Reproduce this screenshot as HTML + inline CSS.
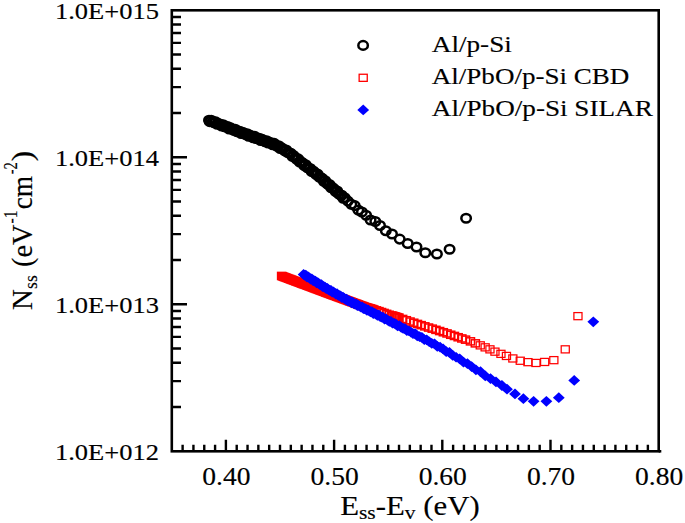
<!DOCTYPE html>
<html lang="en"><head><meta charset="utf-8"><title>Nss vs Ess-Ev</title>
<style>html,body{margin:0;padding:0;background:#fff;}svg{display:block;}text{font-family:"Liberation Serif",serif;fill:#000;stroke:#000;stroke-width:0.15px;}</style>
</head><body>
<svg width="685" height="523" viewBox="0 0 685 523">
<rect x="0" y="0" width="685" height="523" fill="#fff"/>
<g fill="none" stroke="#ff0000" stroke-width="1.5">
<rect x="277.6" y="272.4" width="8.1" height="7.1" fill="#ff0000"/>
<rect x="278.6" y="272.8" width="8.1" height="7.1" fill="#ff0000"/>
<rect x="279.8" y="273.3" width="8.1" height="7.1" fill="#ff0000"/>
<rect x="281.0" y="273.7" width="8.1" height="7.1" fill="#ff0000"/>
<rect x="282.2" y="274.2" width="8.1" height="7.1" fill="#ff0000"/>
<rect x="283.4" y="274.6" width="8.1" height="7.1" fill="#ff0000"/>
<rect x="284.6" y="275.1" width="8.1" height="7.1" fill="#ff0000"/>
<rect x="285.8" y="275.5" width="8.1" height="7.1" fill="#ff0000"/>
<rect x="287.0" y="276.0" width="8.1" height="7.1" fill="#ff0000"/>
<rect x="288.2" y="276.4" width="8.1" height="7.1" fill="#ff0000"/>
<rect x="289.4" y="276.9" width="8.1" height="7.1" fill="#ff0000"/>
<rect x="290.6" y="277.3" width="8.1" height="7.1" fill="#ff0000"/>
<rect x="291.8" y="277.8" width="8.1" height="7.1" fill="#ff0000"/>
<rect x="293.0" y="278.2" width="8.1" height="7.1" fill="#ff0000"/>
<rect x="294.2" y="278.7" width="8.1" height="7.1" fill="#ff0000"/>
<rect x="295.4" y="279.1" width="8.1" height="7.1" fill="#ff0000"/>
<rect x="296.6" y="279.6" width="8.1" height="7.1" fill="#ff0000"/>
<rect x="297.8" y="280.0" width="8.1" height="7.1" fill="#ff0000"/>
<rect x="299.0" y="280.5" width="8.1" height="7.1" fill="#ff0000"/>
<rect x="300.2" y="280.9" width="8.1" height="7.1" fill="#ff0000"/>
<rect x="301.4" y="281.3" width="8.1" height="7.1" fill="#ff0000"/>
<rect x="302.6" y="281.8" width="8.1" height="7.1" fill="#ff0000"/>
<rect x="303.8" y="282.2" width="8.1" height="7.1" fill="#ff0000"/>
<rect x="305.0" y="282.7" width="8.1" height="7.1" fill="#ff0000"/>
<rect x="306.2" y="283.1" width="8.1" height="7.1" fill="#ff0000"/>
<rect x="307.4" y="283.6" width="8.1" height="7.1" fill="#ff0000"/>
<rect x="308.6" y="284.0" width="8.1" height="7.1" fill="#ff0000"/>
<rect x="309.8" y="284.5" width="8.1" height="7.1" fill="#ff0000"/>
<rect x="311.0" y="284.9" width="8.1" height="7.1" fill="#ff0000"/>
<rect x="312.2" y="285.4" width="8.1" height="7.1" fill="#ff0000"/>
<rect x="313.4" y="285.8" width="8.1" height="7.1" fill="#ff0000"/>
<rect x="314.6" y="286.3" width="8.1" height="7.1" fill="#ff0000"/>
<rect x="315.8" y="286.7" width="8.1" height="7.1" fill="#ff0000"/>
<rect x="317.0" y="287.2" width="8.1" height="7.1" fill="#ff0000"/>
<rect x="318.2" y="287.6" width="8.1" height="7.1" fill="#ff0000"/>
<rect x="319.4" y="288.1" width="8.1" height="7.1" fill="#ff0000"/>
<rect x="320.6" y="288.5" width="8.1" height="7.1" fill="#ff0000"/>
<rect x="321.8" y="289.0" width="8.1" height="7.1" fill="#ff0000"/>
<rect x="323.0" y="289.4" width="8.1" height="7.1" fill="#ff0000"/>
<rect x="324.2" y="289.9" width="8.1" height="7.1" fill="#ff0000"/>
<rect x="325.4" y="290.3" width="8.1" height="7.1" fill="#ff0000"/>
<rect x="326.6" y="290.8" width="8.1" height="7.1" fill="#ff0000"/>
<rect x="327.8" y="291.2" width="8.1" height="7.1" fill="#ff0000"/>
<rect x="329.0" y="291.7" width="8.1" height="7.1" fill="#ff0000"/>
<rect x="330.2" y="292.1" width="8.1" height="7.1" fill="#ff0000"/>
<rect x="331.4" y="292.5" width="8.1" height="7.1" fill="#ff0000"/>
<rect x="332.6" y="293.0" width="8.1" height="7.1" fill="#ff0000"/>
<rect x="333.8" y="293.4" width="8.1" height="7.1" fill="#ff0000"/>
<rect x="335.0" y="293.8" width="8.1" height="7.1" fill="#ff0000"/>
<rect x="336.2" y="294.3" width="8.1" height="7.1" fill="#ff0000"/>
<rect x="337.4" y="294.7" width="8.1" height="7.1" fill="#ff0000"/>
<rect x="338.6" y="295.2" width="8.1" height="7.1" fill="#ff0000"/>
<rect x="339.8" y="295.6" width="8.1" height="7.1" fill="#ff0000"/>
<rect x="341.0" y="296.0" width="8.1" height="7.1" fill="#ff0000"/>
<rect x="342.2" y="296.5" width="8.1" height="7.1" fill="#ff0000"/>
<rect x="343.4" y="296.9" width="8.1" height="7.1" fill="#ff0000"/>
<rect x="344.6" y="297.4" width="8.1" height="7.1" fill="#ff0000"/>
<rect x="345.8" y="297.8" width="8.1" height="7.1" fill="#ff0000"/>
<rect x="347.0" y="298.2" width="8.1" height="7.1" fill="#ff0000"/>
<rect x="348.2" y="298.7" width="8.1" height="7.1" fill="#ff0000"/>
<rect x="349.4" y="299.1" width="8.1" height="7.1" fill="#ff0000"/>
<rect x="350.6" y="299.6" width="8.1" height="7.1" fill="#ff0000"/>
<rect x="351.8" y="300.0" width="8.1" height="7.1" fill="#ff0000"/>
<rect x="353.0" y="300.4" width="8.1" height="7.1" fill="#ff0000"/>
<rect x="354.2" y="300.9" width="8.1" height="7.1" fill="#ff0000"/>
<rect x="355.4" y="301.3" width="8.1" height="7.1" fill="#ff0000"/>
<rect x="356.6" y="301.8" width="8.1" height="7.1" fill="#ff0000"/>
<rect x="357.8" y="302.2" width="8.1" height="7.1" fill="#ff0000"/>
<rect x="359.0" y="302.6" width="8.1" height="7.1" fill="#ff0000"/>
<rect x="360.2" y="303.1" width="8.1" height="7.1" fill="#ff0000"/>
<rect x="361.4" y="303.5" width="8.1" height="7.1" fill="#ff0000"/>
<rect x="362.6" y="303.8" width="8.1" height="7.1" fill="#ff0000"/>
<rect x="363.8" y="304.2" width="8.1" height="7.1" fill="#ff0000"/>
<rect x="365.0" y="304.6" width="8.1" height="7.1" fill="#ff0000"/>
<rect x="366.2" y="304.9" width="8.1" height="7.1" fill="#ff0000"/>
<rect x="367.4" y="305.3" width="8.1" height="7.1" fill="#ff0000"/>
<rect x="368.6" y="305.6" width="8.1" height="7.1" fill="#ff0000"/>
<rect x="369.8" y="306.0" width="8.1" height="7.1" fill="#ff0000"/>
<rect x="372.4" y="306.8" width="8.1" height="7.1"/>
<rect x="374.9" y="307.6" width="8.1" height="7.1"/>
<rect x="377.5" y="308.5" width="8.1" height="7.1"/>
<rect x="380.0" y="309.4" width="8.1" height="7.1"/>
<rect x="382.6" y="310.3" width="8.1" height="7.1"/>
<rect x="385.1" y="311.2" width="8.1" height="7.1"/>
<rect x="387.7" y="311.9" width="8.1" height="7.1"/>
<rect x="388.9" y="312.3" width="8.1" height="7.1"/>
<rect x="390.1" y="312.7" width="8.1" height="7.1"/>
<rect x="391.3" y="313.0" width="8.1" height="7.1"/>
<rect x="392.5" y="313.4" width="8.1" height="7.1"/>
<rect x="393.7" y="313.8" width="8.1" height="7.1"/>
<rect x="394.9" y="314.1" width="8.1" height="7.1"/>
<rect x="398.6" y="315.4" width="8.1" height="7.1"/>
<rect x="402.3" y="316.7" width="8.1" height="7.1"/>
<rect x="406.0" y="318.0" width="8.1" height="7.1"/>
<rect x="409.7" y="319.2" width="8.1" height="7.1"/>
<rect x="413.4" y="320.4" width="8.1" height="7.1"/>
<rect x="417.1" y="321.6" width="8.1" height="7.1"/>
<rect x="420.8" y="322.8" width="8.1" height="7.1"/>
<rect x="424.5" y="324.0" width="8.1" height="7.1"/>
<rect x="428.2" y="325.1" width="8.1" height="7.1"/>
<rect x="431.9" y="326.3" width="8.1" height="7.1"/>
<rect x="435.6" y="327.5" width="8.1" height="7.1"/>
<rect x="439.3" y="328.7" width="8.1" height="7.1"/>
<rect x="443.0" y="329.9" width="8.1" height="7.1"/>
<rect x="446.7" y="331.2" width="8.1" height="7.1"/>
<rect x="450.4" y="332.4" width="8.1" height="7.1"/>
<rect x="454.1" y="333.7" width="8.1" height="7.1"/>
<rect x="457.8" y="334.9" width="8.1" height="7.1"/>
<rect x="461.5" y="336.1" width="8.1" height="7.1"/>
<rect x="466.4" y="337.8" width="8.1" height="7.1"/>
<rect x="471.3" y="339.8" width="8.1" height="7.1"/>
<rect x="476.2" y="341.8" width="8.1" height="7.1" stroke-width="1.25"/>
<rect x="481.1" y="343.8" width="8.1" height="7.1" stroke-width="1.25"/>
<rect x="485.9" y="345.8" width="8.1" height="7.1" stroke-width="1.25"/>
<rect x="490.9" y="348.1" width="8.1" height="7.1" stroke-width="1.25"/>
<rect x="496.9" y="350.3" width="8.1" height="7.1" stroke-width="1.25"/>
<rect x="502.4" y="352.4" width="8.1" height="7.1" stroke-width="1.25"/>
<rect x="508.8" y="354.9" width="8.1" height="7.1" stroke-width="1.25"/>
<rect x="516.2" y="357.2" width="8.1" height="7.1" stroke-width="1.25"/>
<rect x="523.9" y="358.6" width="8.1" height="7.1" stroke-width="1.25"/>
<rect x="531.9" y="359.4" width="8.1" height="7.1" stroke-width="1.25"/>
<rect x="540.6" y="358.4" width="8.1" height="7.1" stroke-width="1.25"/>
<rect x="549.8" y="356.6" width="8.1" height="7.1" stroke-width="1.25"/>
<rect x="561.2" y="345.8" width="8.1" height="7.1" stroke-width="1.25"/>
<rect x="573.9" y="312.6" width="8.1" height="7.1" stroke-width="1.25"/>
</g>
<g fill="#0000ff" stroke="none">
<path d="M297.7 274.4L303.6 269.0L309.5 274.4L303.6 279.8Z"/>
<path d="M298.7 275.3L304.6 269.9L310.5 275.3L304.6 280.6Z"/>
<path d="M299.9 275.1L305.8 269.8L311.7 275.1L305.8 280.5Z"/>
<path d="M301.1 277.1L307.0 271.7L312.9 277.1L307.0 282.4Z"/>
<path d="M302.3 276.9L308.2 271.5L314.1 276.9L308.2 282.2Z"/>
<path d="M303.5 277.8L309.4 272.4L315.3 277.8L309.4 283.1Z"/>
<path d="M304.7 279.2L310.6 273.8L316.5 279.2L310.6 284.5Z"/>
<path d="M305.9 278.7L311.8 273.4L317.7 278.7L311.8 284.1Z"/>
<path d="M307.1 280.5L313.0 275.2L318.9 280.5L313.0 285.9Z"/>
<path d="M308.3 280.9L314.2 275.5L320.1 280.9L314.2 286.2Z"/>
<path d="M309.5 281.1L315.4 275.7L321.3 281.1L315.4 286.4Z"/>
<path d="M310.7 283.0L316.6 277.6L322.5 283.0L316.6 288.3Z"/>
<path d="M311.9 282.6L317.8 277.2L323.7 282.6L317.8 287.9Z"/>
<path d="M313.1 283.8L319.0 278.5L324.9 283.8L319.0 289.2Z"/>
<path d="M314.3 284.9L320.2 279.5L326.1 284.9L320.2 290.2Z"/>
<path d="M315.5 284.6L321.4 279.2L327.3 284.6L321.4 289.9Z"/>
<path d="M316.7 286.5L322.6 281.2L328.5 286.5L322.6 291.9Z"/>
<path d="M317.9 286.5L323.8 281.2L329.7 286.5L323.8 291.9Z"/>
<path d="M319.1 287.1L325.0 281.8L330.9 287.1L325.0 292.5Z"/>
<path d="M320.3 288.8L326.2 283.4L332.1 288.8L326.2 294.1Z"/>
<path d="M321.5 288.3L327.4 282.9L333.3 288.3L327.4 293.6Z"/>
<path d="M322.7 289.9L328.6 284.5L334.5 289.9L328.6 295.2Z"/>
<path d="M323.9 290.5L329.8 285.1L335.7 290.5L329.8 295.8Z"/>
<path d="M325.1 290.4L331.0 285.0L336.9 290.4L331.0 295.7Z"/>
<path d="M326.3 292.2L332.2 286.9L338.1 292.2L332.2 297.6Z"/>
<path d="M327.5 291.9L333.4 286.6L339.3 291.9L333.4 297.3Z"/>
<path d="M328.7 292.9L334.6 287.5L340.5 292.9L334.6 298.2Z"/>
<path d="M329.9 294.1L335.8 288.8L341.7 294.1L335.8 299.5Z"/>
<path d="M331.1 293.7L337.0 288.3L342.9 293.7L337.0 299.0Z"/>
<path d="M332.3 295.4L338.2 290.1L344.1 295.4L338.2 300.8Z"/>
<path d="M333.5 295.6L339.4 290.3L345.3 295.6L339.4 301.0Z"/>
<path d="M334.7 295.9L340.6 290.5L346.5 295.9L340.6 301.2Z"/>
<path d="M335.9 297.6L341.8 292.3L347.7 297.6L341.8 303.0Z"/>
<path d="M337.1 297.1L343.0 291.8L348.9 297.1L343.0 302.5Z"/>
<path d="M338.3 298.5L344.2 293.1L350.1 298.5L344.2 303.8Z"/>
<path d="M339.5 299.3L345.4 294.0L351.3 299.3L345.4 304.7Z"/>
<path d="M340.7 299.1L346.6 293.7L352.5 299.1L346.6 304.4Z"/>
<path d="M341.9 300.9L347.8 295.6L353.7 300.9L347.8 306.3Z"/>
<path d="M343.1 300.8L349.0 295.4L354.9 300.8L349.0 306.1Z"/>
<path d="M344.3 301.4L350.2 296.1L356.1 301.4L350.2 306.8Z"/>
<path d="M345.5 302.8L351.4 297.5L357.3 302.8L351.4 308.2Z"/>
<path d="M346.7 302.2L352.6 296.8L358.5 302.2L352.6 307.5Z"/>
<path d="M347.9 303.7L353.8 298.3L359.7 303.7L353.8 309.0Z"/>
<path d="M349.1 304.0L355.0 298.7L360.9 304.0L355.0 309.4Z"/>
<path d="M350.3 304.0L356.2 298.6L362.1 304.0L356.2 309.3Z"/>
<path d="M351.5 305.7L357.4 300.4L363.3 305.7L357.4 311.1Z"/>
<path d="M352.7 305.2L358.6 299.9L364.5 305.2L358.6 310.6Z"/>
<path d="M353.9 306.2L359.8 300.9L365.7 306.2L359.8 311.6Z"/>
<path d="M355.1 307.3L361.0 301.9L366.9 307.3L361.0 312.6Z"/>
<path d="M356.3 306.8L362.2 301.4L368.1 306.8L362.2 312.1Z"/>
<path d="M357.5 308.5L363.4 303.2L369.3 308.5L363.4 313.9Z"/>
<path d="M358.7 308.5L364.6 303.2L370.5 308.5L364.6 313.9Z"/>
<path d="M359.9 308.8L365.8 303.5L371.7 308.8L365.8 314.2Z"/>
<path d="M361.1 310.4L367.0 305.1L372.9 310.4L367.0 315.8Z"/>
<path d="M362.3 309.8L368.2 304.5L374.1 309.8L368.2 315.2Z"/>
<path d="M363.6 311.2L369.5 305.9L375.4 311.2L369.5 316.6Z"/>
<path d="M364.8 311.9L370.7 306.6L376.6 311.9L370.7 317.3Z"/>
<path d="M366.1 311.7L372.0 306.3L377.9 311.7L372.0 317.0Z"/>
<path d="M367.4 313.5L373.3 308.2L379.2 313.5L373.3 318.9Z"/>
<path d="M368.8 313.3L374.7 307.9L380.6 313.3L374.7 318.6Z"/>
<path d="M370.1 314.1L376.0 308.7L381.9 314.1L376.0 319.4Z"/>
<path d="M371.5 315.5L377.4 310.1L383.3 315.5L377.4 320.8Z"/>
<path d="M372.9 315.0L378.8 309.6L384.7 315.0L378.8 320.3Z"/>
<path d="M374.3 316.7L380.2 311.4L386.1 316.7L380.2 322.1Z"/>
<path d="M375.8 317.1L381.7 311.8L387.6 317.1L381.7 322.5Z"/>
<path d="M377.2 317.3L383.1 312.0L389.0 317.3L383.1 322.7Z"/>
<path d="M378.7 319.3L384.6 313.9L390.5 319.3L384.6 324.6Z"/>
<path d="M380.2 318.9L386.1 313.6L392.0 318.9L386.1 324.3Z"/>
<path d="M381.8 320.3L387.7 314.9L393.6 320.3L387.7 325.6Z"/>
<path d="M383.4 321.4L389.3 316.1L395.2 321.4L389.3 326.8Z"/>
<path d="M385.0 321.2L390.9 315.9L396.8 321.2L390.9 326.6Z"/>
<path d="M386.6 323.3L392.5 317.9L398.4 323.3L392.5 328.6Z"/>
<path d="M388.3 323.4L394.2 318.1L400.1 323.4L394.2 328.8Z"/>
<path d="M390.0 324.2L395.9 318.8L401.8 324.2L395.9 329.5Z"/>
<path d="M391.7 326.0L397.6 320.6L403.5 326.0L397.6 331.3Z"/>
<path d="M393.5 325.7L399.4 320.3L405.3 325.7L399.4 331.0Z"/>
<path d="M395.3 327.5L401.2 322.1L407.1 327.5L401.2 332.8Z"/>
<path d="M397.2 328.4L403.1 323.0L409.0 328.4L403.1 333.7Z"/>
<path d="M399.1 328.6L405.0 323.2L410.9 328.6L405.0 333.9Z"/>
<path d="M401.0 330.8L406.9 325.4L412.8 330.8L406.9 336.1Z"/>
<path d="M403.0 330.8L408.9 325.4L414.8 330.8L408.9 336.1Z"/>
<path d="M405.0 332.1L410.9 326.7L416.8 332.1L410.9 337.4Z"/>
<path d="M407.1 333.7L413.0 328.4L418.9 333.7L413.0 339.1Z"/>
<path d="M409.2 333.7L415.1 328.3L421.0 333.7L415.1 339.0Z"/>
<path d="M411.4 335.9L417.3 330.5L423.2 335.9L417.3 341.2Z"/>
<path d="M413.7 336.6L419.6 331.2L425.5 336.6L419.6 341.9Z"/>
<path d="M416.0 337.4L421.9 332.0L427.8 337.4L421.9 342.7Z"/>
<path d="M418.4 339.7L424.3 334.3L430.2 339.7L424.3 345.0Z"/>
<path d="M420.8 339.8L426.7 334.5L432.6 339.8L426.7 345.2Z"/>
<path d="M423.3 341.8L429.2 336.4L435.1 341.8L429.2 347.1Z"/>
<path d="M425.9 343.4L431.8 338.0L437.7 343.4L431.8 348.7Z"/>
<path d="M428.6 343.8L434.5 338.4L440.4 343.8L434.5 349.1Z"/>
<path d="M431.4 346.5L437.3 341.1L443.2 346.5L437.3 351.8Z"/>
<path d="M434.2 347.2L440.1 341.8L446.0 347.2L440.1 352.5Z"/>
<path d="M437.2 349.0L443.1 343.6L449.0 349.0L443.1 354.3Z"/>
<path d="M440.3 351.7L446.2 346.3L452.1 351.7L446.2 357.0Z"/>
<path d="M443.5 352.4L449.4 347.0L455.3 352.4L449.4 357.7Z"/>
<path d="M446.8 355.4L452.7 350.0L458.6 355.4L452.7 360.7Z"/>
<path d="M450.2 357.3L456.1 351.9L462.0 357.3L456.1 362.6Z"/>
<path d="M453.8 358.8L459.7 353.5L465.6 358.8L459.7 364.2Z"/>
<path d="M457.6 362.3L463.5 356.9L469.4 362.3L463.5 367.6Z"/>
<path d="M461.5 363.6L467.4 358.3L473.3 363.6L467.4 369.0Z"/>
<path d="M465.7 366.6L471.6 361.2L477.5 366.6L471.6 371.9Z"/>
<path d="M470.0 369.8L475.9 364.5L481.8 369.8L475.9 375.2Z"/>
<path d="M474.6 371.7L480.5 366.3L486.4 371.7L480.5 377.0Z"/>
<path d="M479.4 375.9L485.3 370.6L491.2 375.9L485.3 381.3Z"/>
<path d="M484.6 378.6L490.5 373.3L496.4 378.6L490.5 384.0Z"/>
<path d="M490.1 381.9L496.0 376.5L501.9 381.9L496.0 387.2Z"/>
<path d="M496.0 385.5L501.9 380.1L507.8 385.5L501.9 390.9Z"/>
<path d="M501.1 389.2L507.0 383.8L512.9 389.2L507.0 394.6Z"/>
<path d="M509.1 393.9L515.0 388.5L520.9 393.9L515.0 399.2Z"/>
<path d="M517.5 398.7L523.4 393.3L529.3 398.7L523.4 404.1Z"/>
<path d="M527.7 401.3L533.6 395.9L539.5 401.3L533.6 406.7Z"/>
<path d="M540.5 401.3L546.4 395.9L552.3 401.3L546.4 406.7Z"/>
<path d="M552.9 397.7L558.8 392.3L564.7 397.7L558.8 403.1Z"/>
<path d="M568.3 380.4L574.2 375.0L580.1 380.4L574.2 385.8Z"/>
<path d="M587.4 321.8L593.3 316.4L599.2 321.8L593.3 327.2Z"/>
</g>
<g fill="none" stroke="#000" stroke-width="2.5">
<ellipse cx="209.0" cy="120.3" rx="4.75" ry="4.3"/>
<ellipse cx="209.7" cy="121.6" rx="4.75" ry="4.3"/>
<ellipse cx="211.2" cy="120.3" rx="4.75" ry="4.3"/>
<ellipse cx="212.7" cy="121.9" rx="4.75" ry="4.3"/>
<ellipse cx="214.2" cy="122.8" rx="4.75" ry="4.3"/>
<ellipse cx="215.7" cy="121.9" rx="4.75" ry="4.3"/>
<ellipse cx="217.2" cy="124.3" rx="4.75" ry="4.3"/>
<ellipse cx="218.7" cy="123.6" rx="4.75" ry="4.3"/>
<ellipse cx="220.2" cy="124.2" rx="4.75" ry="4.3"/>
<ellipse cx="221.7" cy="126.0" rx="4.75" ry="4.3"/>
<ellipse cx="223.2" cy="124.7" rx="4.75" ry="4.3"/>
<ellipse cx="224.7" cy="126.7" rx="4.75" ry="4.3"/>
<ellipse cx="226.2" cy="127.0" rx="4.75" ry="4.3"/>
<ellipse cx="227.7" cy="126.6" rx="4.75" ry="4.3"/>
<ellipse cx="229.2" cy="129.0" rx="4.75" ry="4.3"/>
<ellipse cx="230.7" cy="127.9" rx="4.75" ry="4.3"/>
<ellipse cx="232.2" cy="129.0" rx="4.75" ry="4.3"/>
<ellipse cx="233.7" cy="130.4" rx="4.75" ry="4.3"/>
<ellipse cx="235.2" cy="129.2" rx="4.75" ry="4.3"/>
<ellipse cx="236.7" cy="131.6" rx="4.75" ry="4.3"/>
<ellipse cx="238.2" cy="131.3" rx="4.75" ry="4.3"/>
<ellipse cx="239.7" cy="131.4" rx="4.75" ry="4.3"/>
<ellipse cx="241.2" cy="133.5" rx="4.75" ry="4.3"/>
<ellipse cx="242.7" cy="132.2" rx="4.75" ry="4.3"/>
<ellipse cx="244.2" cy="133.9" rx="4.75" ry="4.3"/>
<ellipse cx="245.7" cy="134.6" rx="4.75" ry="4.3"/>
<ellipse cx="247.2" cy="133.8" rx="4.75" ry="4.3"/>
<ellipse cx="248.7" cy="136.2" rx="4.75" ry="4.3"/>
<ellipse cx="250.2" cy="135.3" rx="4.75" ry="4.3"/>
<ellipse cx="251.7" cy="136.0" rx="4.75" ry="4.3"/>
<ellipse cx="253.2" cy="137.7" rx="4.75" ry="4.3"/>
<ellipse cx="254.7" cy="136.4" rx="4.75" ry="4.3"/>
<ellipse cx="256.2" cy="138.5" rx="4.75" ry="4.3"/>
<ellipse cx="257.7" cy="138.6" rx="4.75" ry="4.3"/>
<ellipse cx="259.2" cy="138.3" rx="4.75" ry="4.3"/>
<ellipse cx="260.7" cy="140.5" rx="4.75" ry="4.3"/>
<ellipse cx="262.2" cy="139.4" rx="4.75" ry="4.3"/>
<ellipse cx="263.7" cy="140.7" rx="4.75" ry="4.3"/>
<ellipse cx="265.2" cy="141.8" rx="4.75" ry="4.3"/>
<ellipse cx="266.7" cy="140.7" rx="4.75" ry="4.3"/>
<ellipse cx="268.2" cy="143.0" rx="4.75" ry="4.3"/>
<ellipse cx="269.7" cy="142.5" rx="4.75" ry="4.3"/>
<ellipse cx="271.2" cy="142.8" rx="4.75" ry="4.3"/>
<ellipse cx="272.7" cy="144.7" rx="4.75" ry="4.3"/>
<ellipse cx="274.2" cy="143.4" rx="4.75" ry="4.3"/>
<ellipse cx="275.7" cy="145.4" rx="4.75" ry="4.3"/>
<ellipse cx="277.2" cy="146.2" rx="4.75" ry="4.3"/>
<ellipse cx="278.7" cy="145.8" rx="4.75" ry="4.3"/>
<ellipse cx="280.2" cy="148.5" rx="4.75" ry="4.3"/>
<ellipse cx="281.7" cy="147.9" rx="4.75" ry="4.3"/>
<ellipse cx="283.2" cy="149.1" rx="4.75" ry="4.3"/>
<ellipse cx="284.7" cy="150.9" rx="4.75" ry="4.3"/>
<ellipse cx="286.2" cy="150.0" rx="4.75" ry="4.3"/>
<ellipse cx="287.7" cy="152.5" rx="4.75" ry="4.3"/>
<ellipse cx="289.2" cy="152.8" rx="4.75" ry="4.3"/>
<ellipse cx="290.7" cy="153.3" rx="4.75" ry="4.3"/>
<ellipse cx="292.2" cy="156.2" rx="4.75" ry="4.3"/>
<ellipse cx="293.7" cy="155.6" rx="4.75" ry="4.3"/>
<ellipse cx="295.2" cy="157.7" rx="4.75" ry="4.3"/>
<ellipse cx="296.7" cy="159.3" rx="4.75" ry="4.3"/>
<ellipse cx="298.2" cy="158.9" rx="4.75" ry="4.3"/>
<ellipse cx="299.7" cy="162.0" rx="4.75" ry="4.3"/>
<ellipse cx="301.2" cy="161.9" rx="4.75" ry="4.3"/>
<ellipse cx="302.7" cy="163.0" rx="4.75" ry="4.3"/>
<ellipse cx="304.2" cy="165.5" rx="4.75" ry="4.3"/>
<ellipse cx="305.7" cy="164.8" rx="4.75" ry="4.3"/>
<ellipse cx="307.2" cy="167.5" rx="4.75" ry="4.3"/>
<ellipse cx="308.7" cy="168.4" rx="4.75" ry="4.3"/>
<ellipse cx="310.2" cy="168.5" rx="4.75" ry="4.3"/>
<ellipse cx="311.7" cy="171.5" rx="4.75" ry="4.3"/>
<ellipse cx="313.2" cy="171.0" rx="4.75" ry="4.3"/>
<ellipse cx="314.7" cy="172.7" rx="4.75" ry="4.3"/>
<ellipse cx="316.2" cy="174.5" rx="4.75" ry="4.3"/>
<ellipse cx="317.7" cy="174.1" rx="4.75" ry="4.3"/>
<ellipse cx="319.2" cy="177.1" rx="4.75" ry="4.3"/>
<ellipse cx="320.7" cy="177.6" rx="4.75" ry="4.3"/>
<ellipse cx="322.2" cy="178.4" rx="4.75" ry="4.3"/>
<ellipse cx="323.7" cy="181.3" rx="4.75" ry="4.3"/>
<ellipse cx="325.2" cy="180.7" rx="4.75" ry="4.3"/>
<ellipse cx="326.7" cy="183.2" rx="4.75" ry="4.3"/>
<ellipse cx="328.2" cy="184.6" rx="4.75" ry="4.3"/>
<ellipse cx="329.7" cy="184.6" rx="4.75" ry="4.3"/>
<ellipse cx="331.2" cy="187.7" rx="4.75" ry="4.3"/>
<ellipse cx="332.7" cy="187.7" rx="4.75" ry="4.3"/>
<ellipse cx="334.2" cy="189.1" rx="4.75" ry="4.3"/>
<ellipse cx="335.7" cy="191.6" rx="4.75" ry="4.3"/>
<ellipse cx="337.2" cy="191.0" rx="4.75" ry="4.3"/>
<ellipse cx="338.7" cy="193.9" rx="4.75" ry="4.3"/>
<ellipse cx="340.2" cy="194.7" rx="4.75" ry="4.3"/>
<ellipse cx="341.7" cy="195.2" rx="4.75" ry="4.3"/>
<ellipse cx="343.2" cy="198.2" rx="4.75" ry="4.3"/>
<ellipse cx="344.7" cy="197.8" rx="4.75" ry="4.3"/>
<ellipse cx="347.9" cy="201.1" rx="4.75" ry="4.3"/>
<ellipse cx="351.3" cy="204.3" rx="4.75" ry="4.3"/>
<ellipse cx="354.7" cy="205.6" rx="4.75" ry="4.3"/>
<ellipse cx="358.3" cy="210.1" rx="4.75" ry="4.3"/>
<ellipse cx="361.9" cy="212.0" rx="4.75" ry="4.3"/>
<ellipse cx="366.1" cy="215.2" rx="4.75" ry="4.3"/>
<ellipse cx="370.6" cy="220.0" rx="4.75" ry="4.3"/>
<ellipse cx="375.3" cy="221.5" rx="4.75" ry="4.3"/>
<ellipse cx="380.0" cy="225.5" rx="4.75" ry="4.3"/>
<ellipse cx="385.8" cy="230.7" rx="4.75" ry="4.3"/>
<ellipse cx="392.0" cy="234.0" rx="4.75" ry="4.3"/>
<ellipse cx="399.7" cy="239.1" rx="4.75" ry="4.3"/>
<ellipse cx="407.7" cy="243.5" rx="4.75" ry="4.3"/>
<ellipse cx="416.5" cy="247.0" rx="4.75" ry="4.3"/>
<ellipse cx="425.3" cy="252.8" rx="4.75" ry="4.3"/>
<ellipse cx="436.9" cy="254.0" rx="4.75" ry="4.3"/>
<ellipse cx="449.6" cy="249.2" rx="4.75" ry="4.3"/>
<ellipse cx="466.1" cy="218.2" rx="4.75" ry="4.3"/>
</g>
<rect x="171.8" y="10.3" width="486.90000000000003" height="441.0" fill="none" stroke="#000" stroke-width="2.6"/>
<path d="M658.7 451.3H661.3000000000001" stroke="#000" stroke-width="2.6" fill="none"/>
<g stroke="#000" stroke-width="2.4" fill="none">
<path d="M182.62 451.3V444.8 M193.44 451.3V444.8 M204.26 451.3V444.8 M215.08 451.3V444.8 M225.90 451.3V439.8 M236.72 451.3V444.8 M247.54 451.3V444.8 M258.36 451.3V444.8 M269.18 451.3V444.8 M280.00 451.3V444.8 M290.82 451.3V444.8 M301.64 451.3V444.8 M312.46 451.3V444.8 M323.28 451.3V444.8 M334.10 451.3V439.8 M344.92 451.3V444.8 M355.74 451.3V444.8 M366.56 451.3V444.8 M377.38 451.3V444.8 M388.20 451.3V444.8 M399.02 451.3V444.8 M409.84 451.3V444.8 M420.66 451.3V444.8 M431.48 451.3V444.8 M442.30 451.3V439.8 M453.12 451.3V444.8 M463.94 451.3V444.8 M474.76 451.3V444.8 M485.58 451.3V444.8 M496.40 451.3V444.8 M507.22 451.3V444.8 M518.04 451.3V444.8 M528.86 451.3V444.8 M539.68 451.3V444.8 M550.50 451.3V439.8 M561.32 451.3V444.8 M572.14 451.3V444.8 M582.96 451.3V444.8 M593.78 451.3V444.8 M604.60 451.3V444.8 M615.42 451.3V444.8 M626.24 451.3V444.8 M637.06 451.3V444.8 M647.88 451.3V444.8 M171.8 407.05H181.0 M171.8 381.16H181.0 M171.8 362.80H181.0 M171.8 348.55H181.0 M171.8 336.91H181.0 M171.8 327.07H181.0 M171.8 318.55H181.0 M171.8 311.03H181.0 M171.8 304.30H187.0 M171.8 260.05H181.0 M171.8 234.16H181.0 M171.8 215.80H181.0 M171.8 201.55H181.0 M171.8 189.91H181.0 M171.8 180.07H181.0 M171.8 171.55H181.0 M171.8 164.03H181.0 M171.8 157.30H187.0 M171.8 113.05H181.0 M171.8 87.16H181.0 M171.8 68.80H181.0 M171.8 54.55H181.0 M171.8 42.91H181.0 M171.8 33.07H181.0 M171.8 24.55H181.0 M171.8 17.03H181.0"/>
</g>
<text x="159" y="18.7" font-size="23.7" text-anchor="end" textLength="104" lengthAdjust="spacingAndGlyphs">1.0E+015</text>
<text x="159" y="165.5" font-size="23.7" text-anchor="end" textLength="104" lengthAdjust="spacingAndGlyphs">1.0E+014</text>
<text x="159" y="313.3" font-size="23.7" text-anchor="end" textLength="104" lengthAdjust="spacingAndGlyphs">1.0E+013</text>
<text x="159" y="460.3" font-size="23.7" text-anchor="end" textLength="104" lengthAdjust="spacingAndGlyphs">1.0E+012</text>
<text x="202.3" y="485.1" font-size="25.4" textLength="48.2" lengthAdjust="spacingAndGlyphs">0.40</text>
<text x="310.5" y="485.1" font-size="25.4" textLength="48.2" lengthAdjust="spacingAndGlyphs">0.50</text>
<text x="418.7" y="485.1" font-size="25.4" textLength="48.2" lengthAdjust="spacingAndGlyphs">0.60</text>
<text x="526.9" y="485.1" font-size="25.4" textLength="48.2" lengthAdjust="spacingAndGlyphs">0.70</text>
<text x="635.1" y="485.1" font-size="25.4" textLength="48.2" lengthAdjust="spacingAndGlyphs">0.80</text>
<text x="340.2" y="514.8" font-size="26.5" textLength="139.5" lengthAdjust="spacingAndGlyphs">E<tspan font-size="18.5" dy="4.6">ss</tspan><tspan dy="-4.6">-E</tspan><tspan font-size="18.5" dy="4.6">v</tspan><tspan dy="-4.6"> (eV)</tspan></text>
<g transform="translate(32.2 309.9) rotate(-90)" font-size="28.9">
<text x="0" y="0" font-size="28.9" textLength="20.9" lengthAdjust="spacingAndGlyphs">N</text>
<text x="21.0" y="4.8" font-size="19.5" textLength="13.6" lengthAdjust="spacingAndGlyphs">ss</text>
<text x="43.0" y="0" font-size="28.9" textLength="42.4" lengthAdjust="spacingAndGlyphs">(eV</text>
<text x="86.4" y="-15" font-size="19.5" textLength="13.2" lengthAdjust="spacingAndGlyphs">-1</text>
<text x="100.6" y="0" font-size="28.9" textLength="33.4" lengthAdjust="spacingAndGlyphs">cm</text>
<text x="135.6" y="-15" font-size="19.5" textLength="12.0" lengthAdjust="spacingAndGlyphs">-2</text>
<text x="148.3" y="0" font-size="28.9" textLength="10.6" lengthAdjust="spacingAndGlyphs">)</text>
</g>
<ellipse cx="363.1" cy="45.4" rx="4.75" ry="4.3" fill="none" stroke="#000" stroke-width="2.5"/>
<rect x="359.15" y="74.25" width="8.1" height="7.1" fill="none" stroke="#ff0000" stroke-width="1.3"/>
<path d="M357.3 109.9L363.2 104.55L369.1 109.9L363.2 115.25Z" fill="#0000ff"/>
<text x="431.8" y="52.3" font-size="23.8" textLength="80" lengthAdjust="spacingAndGlyphs">Al/p-Si</text>
<text x="431.8" y="84.1" font-size="23.8" textLength="197.5" lengthAdjust="spacingAndGlyphs">Al/PbO/p-Si CBD</text>
<text x="431.8" y="116.4" font-size="23.8" textLength="221" lengthAdjust="spacingAndGlyphs">Al/PbO/p-Si SILAR</text>
</svg></body></html>
